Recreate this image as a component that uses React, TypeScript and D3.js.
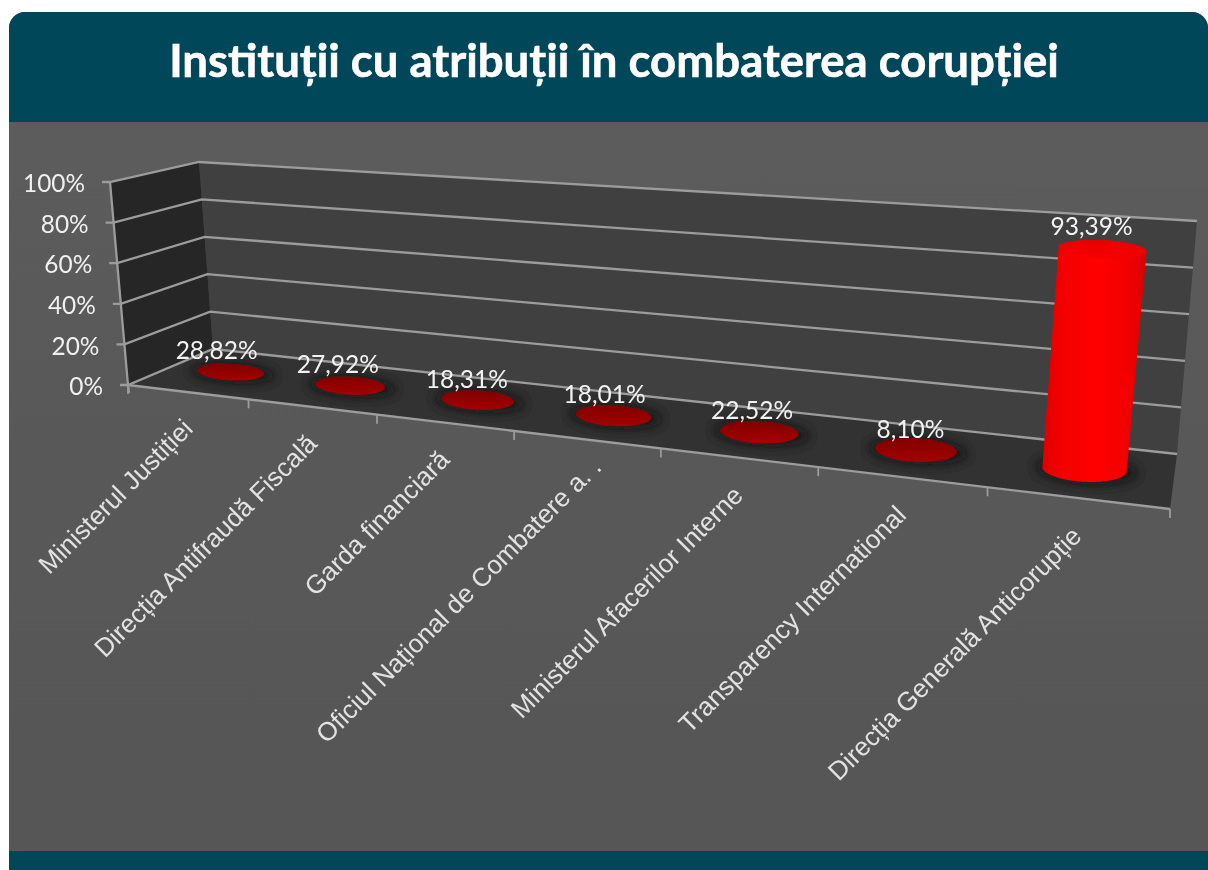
import React from 'react';
import * as d3 from 'd3';

const title = 'Instituții cu atribuții în combaterea corupției';
const categories = [
  'Ministerul Justiției',
  'Direcția Antifraudă Fiscală',
  'Garda financiară',
  'Oficiul Național de Combatere a. .',
  'Ministerul Afacerilor Interne',
  'Transparency International',
  'Direcția Generală Anticorupție',
];
// the source chart plots fractions next to one real percentage, so only the last bar has height
const barValues = [0.2882, 0.2792, 0.1831, 0.1801, 0.2252, 0.081, 93.39];
const barLabels = ['28,82%', '27,92%', '18,31%', '18,01%', '22,52%', '8,10%', '93,39%'];
const yTicks = [0, 20, 40, 60, 80, 100];

const W = 1208;
const H = 870;

// box corners on screen: [bottom, top] for each vertical edge
const frontLeft = [[128, 385], [110, 182]];
const backLeft = [[213, 349], [199, 162]];
const backRight = [[1177, 454], [1197, 221]];
const frontRight = [[1170, 509], [1196, 262]];

const mix = (a: number[], b: number[], t: number) => [a[0] + (b[0] - a[0]) * t, a[1] + (b[1] - a[1]) * t];
const warp = (u: number) => (u * 0.785) / (1 - u * 0.215); // perspective along the long edge

const project = (u: number, depth: number, z: number) => {
  const w = warp(u);
  const front = mix(mix(frontLeft[0], frontRight[0], w), mix(frontLeft[1], frontRight[1], w), z);
  const back = mix(mix(backLeft[0], backRight[0], w), mix(backLeft[1], backRight[1], w), z);
  return mix(front, back, depth);
};

const xBand = d3.scaleBand<string>().domain(categories).range([0, 1]);
const zScale = d3.scaleLinear().domain([0, 100]).range([0, 1]);
const labelShift = d3.scaleLinear().domain([0, 1]).range([-15, -3]);
const rxScale = d3.scaleLinear().domain([0, 1]).range([32.5, 43]);
const ryScale = d3.scaleLinear().domain([0, 1]).range([8, 13]);
const tickOffsetX = d3.scaleLinear().domain([0, 1]).range([7, 6]);
const tickOffsetY = d3.scaleLinear().domain([0, 1]).range([38, 40]);
const ellipseLine = d3.line().curve(d3.curveLinearClosed);

const poly = (pts: number[][]) => ellipseLine(pts as [number, number][]) as string;

const ellipsePts = (c: number[], rx: number, ry: number, deg: number) => {
  const a = (deg * Math.PI) / 180;
  return d3.range(48).map(i => {
    const t = (i / 48) * 2 * Math.PI;
    const x = rx * Math.cos(t);
    const y = ry * Math.sin(t);
    return [c[0] + x * Math.cos(a) - y * Math.sin(a), c[1] + x * Math.sin(a) + y * Math.cos(a)];
  });
};

const barGeom = (cat: string, value: number) => {
  const u = (xBand(cat) as number) + xBand.bandwidth() / 2;
  const base = project(u, 0.54, 0);
  const top = project(u, 0.54, zScale(value));
  return { u, base, top, rx: rxScale(u), ry: ryScale(u) };
};

const chartFont = 'Lato, "Noto Sans", sans-serif';
const gridColor = '#9c9c9c';

export default function App() {
  const floor = [project(0, 0, 0), project(0, 1, 0), project(1, 1, 0), project(1, 0, 0)];
  const side = [project(0, 0, 0), project(0, 1, 0), project(0, 1, 1), project(0, 0, 1)];
  const back = [project(0, 1, 0), project(1, 1, 0), project(1, 1, 1), project(0, 1, 1)];
  const edges = [...categories.map(c => xBand(c) as number), 1];

  return (
    <svg width={W} height={H} style={{ position: 'absolute', left: 0, top: 0, display: 'block' }}>
      <defs>
        <linearGradient id="panel" x1="0" y1="0" x2="0" y2="1">
          <stop offset="0" stopColor="#5c5c5c" />
          <stop offset="1" stopColor="#565656" />
        </linearGradient>
        <linearGradient id="cyl" x1="0" y1="0" x2="1" y2="0">
          <stop offset="0" stopColor="#e00000" />
          <stop offset="0.2" stopColor="#f40000" />
          <stop offset="0.55" stopColor="#ff0000" />
          <stop offset="0.85" stopColor="#f00000" />
          <stop offset="1" stopColor="#d80000" />
        </linearGradient>
        <linearGradient id="disc" x1="0" y1="0" x2="0" y2="1">
          <stop offset="0" stopColor="#800000" />
          <stop offset="0.6" stopColor="#960000" />
          <stop offset="1" stopColor="#a20000" />
        </linearGradient>
        <linearGradient id="cap" x1="0" y1="0" x2="0" y2="1">
          <stop offset="0" stopColor="#e80000" />
          <stop offset="1" stopColor="#f60000" />
        </linearGradient>
        <filter id="shadow" x="-40%" y="-120%" width="180%" height="340%">
          <feGaussianBlur stdDeviation="5" />
        </filter>
        <filter id="soft" x="-2%" y="-2%" width="104%" height="104%">
          <feGaussianBlur stdDeviation="0.6" />
        </filter>
      </defs>

      <g filter="url(#soft)">
        <path
          d="M9,870V28a16,16 0 0 1 16,-16H1192a16,16 0 0 1 16,16V870Z"
          fill="url(#panel)"
        />
        <path d="M9,122V28a16,16 0 0 1 16,-16H1192a16,16 0 0 1 16,16V122Z" fill="#00475a" />
        <rect x={9} y={851} width={1199} height={19} fill="#00475a" />

        <text
          x={614}
          y={77}
          textAnchor="middle"
          fill="#fff"
          stroke="#fff"
          strokeWidth={0.6}
          fontFamily={chartFont}
          fontWeight={700}
          fontSize={45.5}
        >
          {title}
        </text>

        <path d={poly(back)} fill="#404040" />
        <path d={poly(side)} fill="#262626" />
        <path d={poly(floor)} fill="#303030" />

        {yTicks.map(t => {
          const z = zScale(t);
          const a = project(0, 0, z);
          const b = project(0, 1, z);
          const c = project(1, 1, z);
          return (
            <g key={t}>
              <path
                d={`M${a[0] - 8},${a[1]}L${a[0]},${a[1]}L${b[0]},${b[1]}L${c[0]},${c[1]}`}
                fill="none"
                stroke={gridColor}
                strokeWidth={2.3}
              />
              <text
                x={a[0] - 25}
                y={a[1]}
                dy="0.42em"
                textAnchor="end"
                fill="#f0f0f0"
                fontFamily={chartFont}
                fontSize={24.4}
              >
                {t}%
              </text>
            </g>
          );
        })}

        <path
          d={`M${project(0, 0, 1)}L${project(0, 0, 0)}l1,8`}
          fill="none"
          stroke={gridColor}
          strokeWidth={2.3}
        />
        <path
          d={`M${project(0, 0, 0)}L${project(1, 0, 0)}`}
          fill="none"
          stroke={gridColor}
          strokeWidth={2.3}
        />
        {edges.map(u => {
          const p = project(u, 0, 0);
          return <path key={u} d={`M${p[0]},${p[1]}v9`} stroke={gridColor} strokeWidth={1.8} />;
        })}

        {categories.map((c, i) => {
          const g = barGeom(c, barValues[i]);
          const tall = barValues[i] > 1;
          const shadow = ellipsePts([g.base[0] + 2, g.base[1] + 1], g.rx + 8, g.ry + 1, 4);
          const topPts = ellipsePts(g.top, g.rx * 1.04, g.ry * 0.72, 3);
          const basePts = ellipsePts(g.base, g.rx, g.ry, 3);
          const lower = basePts.slice(0, 25);
          const upper = topPts.slice(24).concat([topPts[0]]);
          return (
            <g key={c}>
              <path d={poly(shadow)} fill="#111" opacity={0.7} filter="url(#shadow)" />
              {tall && <path d={poly([...lower, ...upper])} fill="url(#cyl)" />}
              <path d={poly(tall ? topPts : basePts)} fill={tall ? 'url(#cap)' : 'url(#disc)'} />
            </g>
          );
        })}

        {categories.map((c, i) => {
          const g = barGeom(c, barValues[i]);
          const tall = barValues[i] > 1;
          const x = g.top[0] + (tall ? -11 : labelShift(g.u));
          const y = g.top[1] - (tall ? 23 : 21);
          return (
            <text
              key={c}
              x={x}
              y={y}
              dy="0.36em"
              textAnchor="middle"
              fill="#f2f2f2"
              fontFamily={chartFont}
              fontSize={24.5}
            >
              {barLabels[i]}
            </text>
          );
        })}

        {categories.map(c => {
          const u = (xBand(c) as number) + xBand.bandwidth() / 2;
          const p = project(u, 0, 0);
          // the truncated label sits a little further up the slope in the source
          const nudge = c.endsWith('. .') ? 10 : 0;
          return (
            <text
              key={c}
              transform={`translate(${p[0] + tickOffsetX(u) + nudge},${p[1] + tickOffsetY(u) - nudge}) rotate(-45)`}
              textAnchor="end"
              fill="#e2e2e2"
              fontFamily='"Liberation Sans", Arial, sans-serif'
              fontSize={26}
            >
              {c}
            </text>
          );
        })}
      </g>
    </svg>
  );
}
